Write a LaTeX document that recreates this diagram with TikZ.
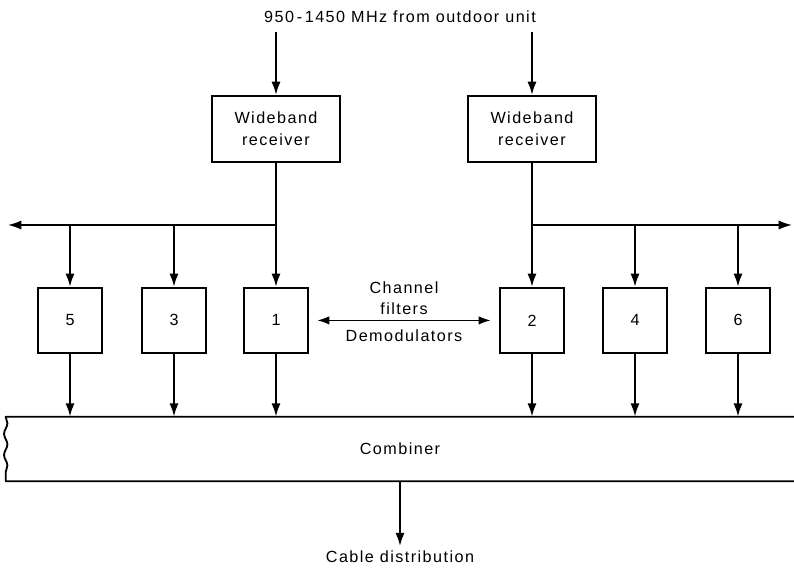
\documentclass[tikz,border=0pt]{standalone}
\usepackage{fontspec}
\setmainfont{Liberation Sans}[LetterSpace=9]
\usetikzlibrary{arrows.meta,decorations.pathmorphing}

\tikzset{
    box/.style={draw, line width=1.3pt, align=center, inner sep=2pt},
    receiver/.style={box, minimum width=32mm, minimum height=16.5mm},
    channel/.style={box, minimum width=16mm, minimum height=16.25mm},
    link/.style={-{Latex[length=9.5pt,width=6.5pt]}, line width=1.6pt},
    bus/.style={link, line width=1.1pt},
    rim/.style={line width=1.3pt, line join=round}
}

\begin{document}
\begin{tikzpicture}[font=\fontsize{11.5}{15.5}\selectfont]
    \useasboundingbox (0,0) rectangle (19.85,-14.275);
    \node (title) at (10,-0.43) {950\,-\,1450 MHz from outdoor unit};
    \node[receiver] (rx-a) at (6.9,-3.225) {Wideband\\receiver};
    \node[receiver] (rx-b) at (13.3,-3.225) {Wideband\\receiver};
    \node[channel] (ch-5) at (1.75,-8.01) {5};
    \node[channel] (ch-3) at (4.35,-8.01) {3};
    \node[channel] (ch-1) at (6.9,-8.01) {1};
    \node[channel] (ch-2) at (13.3,-8.01) {2};
    \node[channel] (ch-4) at (15.875,-8.01) {4};
    \node[channel] (ch-6) at (18.45,-8.01) {6};
    \coordinate (bus-a) at (0.2,-5.625);
    \coordinate (bus-b) at (19.8,-5.625);
    \node[minimum width=19.7cm, minimum height=1.6cm] (comb) at (10,-11.225) {Combiner};
    \node (cable) at (10,-13.93) {Cable distribution};

    % inputs and receivers
    \draw[link, shorten <=3pt] (title.south -| rx-a) -- (rx-a);
    \draw[link, shorten <=3pt] (title.south -| rx-b) -- (rx-b);
    \draw[link] (rx-a) -- (ch-1);
    \draw[link] (rx-b) -- (ch-2);
    \draw[bus] (rx-a.south |- bus-a) -- (bus-a);
    \draw[bus] (rx-b.south |- bus-b) -- (bus-b);
    \foreach \n in {5,3}
        \draw[link] (ch-\n.north |- bus-a) -- (ch-\n);
    \foreach \n in {4,6}
        \draw[link] (ch-\n.north |- bus-b) -- (ch-\n);

    % channel filters
    \draw[{Latex[length=8.5pt,width=6pt]}-{Latex[length=8.5pt,width=6pt]}, line width=1.1pt,
        shorten <=6pt, shorten >=6pt] (ch-1) --
        node[above, align=center] (lbl-top) {Channel\\filters}
        node[below, yshift=-3pt] (lbl-bot) {Demodulators} (ch-2);

    % combiner
    \foreach \n in {5,3,1,2,4,6}
        \draw[link] (ch-\n) -- (ch-\n.south |- comb.north);
    \draw[rim] (comb.north east) -- (comb.north west)
        decorate[decoration={snake, amplitude=1.2pt, segment length=15pt}]
        {-- (comb.south west)} -- (comb.south east);
    \draw[link] (comb.south) -- (cable);
\end{tikzpicture}
\end{document}
